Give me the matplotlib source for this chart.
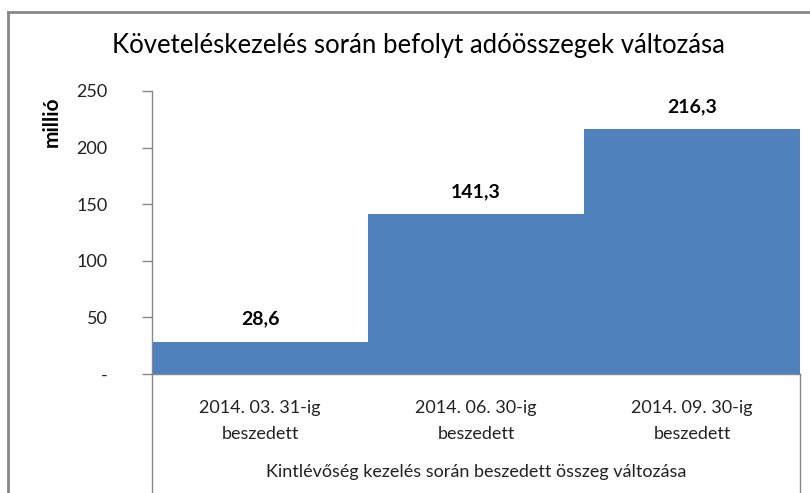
import matplotlib
matplotlib.use("Agg")
import matplotlib.pyplot as plt
from matplotlib.lines import Line2D

categories = ["2014. 03. 31-ig\nbeszedett", "2014. 06. 30-ig\nbeszedett", "2014. 09. 30-ig\nbeszedett"]
values = [28.6, 141.3, 216.3]
value_labels = ["28,6", "141,3", "216,3"]
yticks = [0, 50, 100, 150, 200, 250]
ytick_labels = ["-", "50", "100", "150", "200", "250"]
title = "Követeléskezelés során befolyt adóösszegek változása"
xtitle = "Kintlévőség kezelés során beszedett összeg változása"
ylabel = "millió"

plt.rcParams['font.family'] = ['Lato', 'DejaVu Sans']

W, H = 810, 493
fig = plt.figure(figsize=(W/100, H/100), dpi=100)
ax = fig.add_axes([152/W, 1-374/H, (800-152)/W, (374-91)/H])

x = list(range(len(values)))
ax.bar(x, values, width=1.0, color="#4F81BD", edgecolor="none")
ax.set_xlim(-0.5, len(values)-0.5)
ax.set_ylim(0, 250)
ax.set_yticks(yticks)
ax.set_yticklabels(ytick_labels, fontsize=13, color="#222222")
ax.set_xticks(x)
ax.set_xticklabels(categories, fontsize=13, color="#222222", linespacing=1.75)
ax.tick_params(axis='x', length=0, pad=19)
ax.tick_params(axis='y', length=7, color="#888888", pad=25, width=1)
for s in ["top", "right"]:
    ax.spines[s].set_visible(False)
for s in ["left", "bottom"]:
    ax.spines[s].set_color("#888888")
    ax.spines[s].set_linewidth(1)

for xi, v, lab in zip(x, values, value_labels):
    ax.annotate(lab, (xi, v), xytext=(0, 10), textcoords="offset points",
                ha="center", va="bottom", fontsize=14, fontweight="bold")

ax.set_ylabel(ylabel, fontsize=15, fontweight="bold")
ax.yaxis.set_label_coords(-(152-62)/(800-152), (374-122)/(374-91))

fig.text(418/W, 1-45/H, title, ha="center", va="center", fontsize=18.5)
fig.text(476/W, 1-472/H, xtitle, ha="center", va="center", fontsize=13, color="#222222")

# divider lines extending below axis (multi-level category axis)
for xp in [152, 800]:
    fig.add_artist(Line2D([xp/W, xp/W], [0, 1-374/H], color="#888888", lw=1))
# outer chart border
fig.add_artist(Line2D([8/W, 8/W], [0, 1-12/H], color="#888888", lw=2))
fig.add_artist(Line2D([8/W, 1], [1-12/H, 1-12/H], color="#888888", lw=2))

fig.savefig("out.png", dpi=100)
